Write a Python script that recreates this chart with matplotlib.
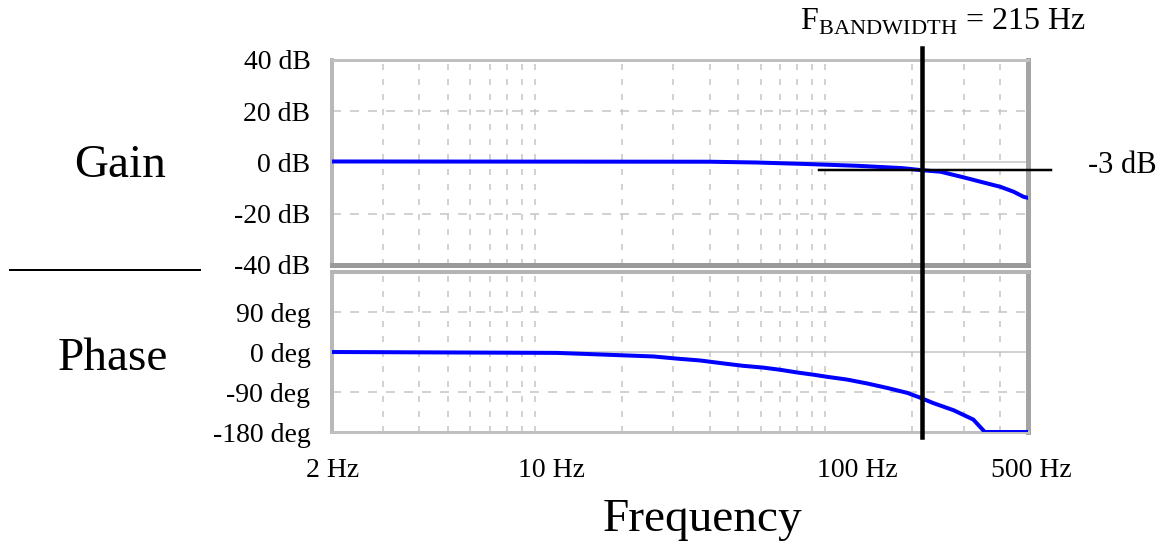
"""Bode plot (gain + phase) with the -3 dB bandwidth marker."""
import matplotlib
matplotlib.use("Agg")
import matplotlib.pyplot as plt  # noqa: E402
from matplotlib.lines import Line2D  # noqa: E402
from matplotlib.transforms import ScaledTranslation, blended_transform_factory  # noqa: E402

plt.rcParams["font.family"] = ["Liberation Serif", "DejaVu Serif"]
plt.rcParams["mathtext.fontset"] = "custom"
plt.rcParams["mathtext.rm"] = "Liberation Serif"

# ---- data ----
GAIN_F = [2, 40, 58, 87, 130, 185, 215, 250, 300, 343, 402, 446, 483, 500]
GAIN_DB = [0.4, 0.3, 0.0, -0.6, -1.3, -2.2, -3.0, -3.6, -5.8, -7.5, -9.5, -11.4, -13.4, -13.8]

PHASE_F = [2, 11.9, 17.5, 25.6, 31, 37, 45, 52, 61, 70, 80, 91, 102, 119,
           140, 164, 192, 213, 236, 277, 324, 355, 500]
PHASE_DEG = [0, -2, -6, -10, -15, -19, -26, -31, -35, -40, -46, -51, -56, -62,
             -71, -81, -92, -103, -115, -131, -152, -180, -180]

X_TICKS = [2, 10, 100, 500]
X_LABELS = ["2 Hz", "10 Hz", "100 Hz", "500 Hz"]
GAIN_TICKS = [-40, -20, 0, 20, 40]
GAIN_LABELS = ["-40 dB", "-20 dB", "0 dB", "20 dB", "40 dB"]
PHASE_TICKS = [-180, -90, 0, 90]
PHASE_LABELS = ["-180 deg", "-90 deg", "0 deg", "90 deg"]
GRID_F = [3, 4, 5, 6, 7, 8, 9, 10, 20, 30, 40, 50, 60, 70, 80, 90, 100, 200, 300, 400]

F_BW = 215          # bandwidth frequency (Hz)
MINUS3 = -3         # -3 dB level
MINUS3_SPAN = (95, 600)   # extent of the -3 dB marker line (Hz)

W, H = 1168, 542
PX = 0.72  # points per pixel at dpi 100


def fx(x):
    return x / W


def fy(y):
    return 1 - y / H


def shift(dx, dy):
    return ScaledTranslation(dx / 100, dy / 100, fig.dpi_scale_trans)


fig = plt.figure(figsize=(W / 100, H / 100), dpi=100)
left, right = 332, 1028
ax_g = fig.add_axes([fx(left), fy(265), fx(right - left), (265 - 60) / H])
ax_p = fig.add_axes([fx(left), fy(432), fx(right - left), (432 - 272) / H])

grid_col = "#c4c4c4"
for ax in (ax_g, ax_p):
    ax.set_xscale("log")
    ax.set_xlim(2, 500)
    for f in GRID_F:
        ax.axvline(f, color=grid_col, lw=1.5 * PX, dashes=(4, 6), zorder=1)
    ax.tick_params(length=0, labelsize=20)
    ax.minorticks_off()

# horizontal grid
for v in (-20, 20):
    ax_g.axhline(v, color=grid_col, lw=1.5 * PX, dashes=(6, 6), zorder=1)
ax_g.axhline(0, color=grid_col, lw=1.5 * PX, zorder=1)
for v in (-90, 90):
    ax_p.axhline(v, color=grid_col, lw=1.5 * PX, dashes=(6, 6), zorder=1)
ax_p.axhline(0, color=grid_col, lw=1.5 * PX, zorder=1)

# curves
ax_g.plot(GAIN_F, GAIN_DB, color="#0000ff", lw=4 * PX, zorder=3)
ax_p.plot(PHASE_F, PHASE_DEG, color="#0000ff", lw=4 * PX, zorder=3)

ax_g.set_ylim(-40, 40)
ax_p.set_ylim(-180, 180)
ax_g.set_yticks(GAIN_TICKS, GAIN_LABELS)
ax_p.set_yticks(PHASE_TICKS, PHASE_LABELS)
ax_g.tick_params(axis="y", pad=15.5)
ax_p.tick_params(axis="y", pad=15.5)
ax_g.set_xticks([])
ax_p.set_xticks(X_TICKS, X_LABELS)
ax_p.tick_params(axis="x", pad=19)
# the original software places the labels a little right of their grid line
for lab, dx in zip(ax_p.get_xticklabels(), [1, 17, 32, 3]):
    lab.set_transform(lab.get_transform() + shift(dx, 0))

# frame (bevelled grey look)
for ax in (ax_g, ax_p):
    ax.spines["left"].set(color="#b8b8b8", lw=4 * PX)
    ax.spines["right"].set(color="#a4a4a4", lw=5 * PX)
ax_g.spines["top"].set(color="#c0c0c0", lw=3 * PX)
ax_g.spines["bottom"].set(color="#9a9a9a", lw=5 * PX)
ax_p.spines["top"].set(color="#b4b4b4", lw=4 * PX)
ax_p.spines["bottom"].set(color="#c0c0c0", lw=3 * PX)

# bandwidth marker: vertical line through both panels
trans_v = blended_transform_factory(ax_g.transData, fig.transFigure)
fig.add_artist(Line2D([F_BW, F_BW], [fy(437), fy(48)], transform=trans_v,
                      color="black", lw=4.5 * PX, zorder=5))
ax_g.plot(MINUS3_SPAN, [MINUS3, MINUS3], color="black", lw=2.5 * PX,
          clip_on=False, zorder=4)
ax_g.text(fx(1088 - left) / fx(right - left), MINUS3, "-3 dB", fontsize=22,
          transform=blended_transform_factory(ax_g.transAxes, ax_g.transData) + shift(0, 5),
          ha="left", va="center")

fig.text(fx(943), fy(30), r"F$_{\mathrm{BANDWIDTH}}$ = 215 Hz", fontsize=23,
         ha="center", va="baseline")

# panel titles and separator
fig.text(fx(120), fy(177), "Gain", fontsize=34, ha="center", va="baseline")
fig.text(fx(113), fy(370), "Phase", fontsize=34, ha="center", va="baseline")
fig.add_artist(Line2D([fx(10), fx(200)], [fy(270), fy(270)],
                      transform=fig.transFigure, color="black", lw=2 * PX))
fig.text(fx(703), fy(531), "Frequency", fontsize=34, ha="center", va="baseline")

fig.savefig("out.png", dpi=100)
